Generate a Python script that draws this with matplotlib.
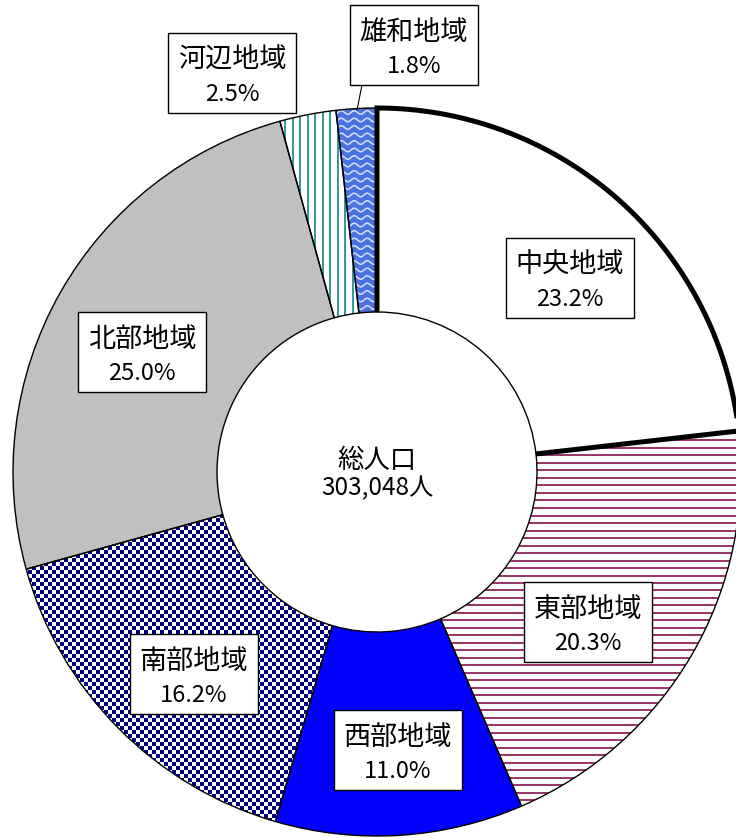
import numpy as np
import matplotlib
matplotlib.use("Agg")
from matplotlib import pyplot as plt
from matplotlib.colors import ListedColormap
from matplotlib.patches import Rectangle

plt.rcParams['font.family'] = ['Noto Sans CJK JP', 'DejaVu Sans']

# data
regions = ['中央地域', '東部地域', '西部地域', '南部地域', '北部地域', '河辺地域', '雄和地域']
shares = [23.2, 20.3, 11.0, 16.2, 25.0, 2.5, 1.8]
total_pop = 303048

# layout (pixel coords, y from top)
W, H = 736, 838
cx, cy = 377, H - 472
r_out, r_in = 364, 160
label_pos = [(570, 278), (588, 622), (398, 750), (194, 674), (142, 352), (232, 73), (414, 45)]
face = ['white', 'white', '#0000FF', 'white', '#C0C0C0', 'white', '#4A72E0']

fig = plt.figure(figsize=(W / 100, H / 100), dpi=100)
ax = fig.add_axes([0, 0, 1, 1])

wedges, _ = ax.pie(shares, colors=face, startangle=90, counterclock=False,
                   radius=r_out, center=(cx, cy),
                   wedgeprops=dict(width=r_out - r_in, edgecolor='none', linewidth=0))

# 東部: horizontal maroon stripes
for y0 in np.arange(0, H, 7.5):
    ln, = ax.plot([0, W], [y0, y0], color='#993366', lw=1.4, zorder=2)
    ln.set_clip_path(wedges[1])

# 河辺: vertical teal stripes
for x0 in np.arange(0, W, 7.5):
    ln, = ax.plot([x0, x0], [0, H], color='#2E9A96', lw=1.4, zorder=2)
    ln.set_clip_path(wedges[5])

# 雄和: wavy light lines
xs = np.linspace(320, 400, 200)
for y0 in np.arange(H - 330, H - 90, 7.5):
    ln, = ax.plot(xs, y0 + 1.8 * np.sin(2 * np.pi * xs / 13), color='#D6E2FF', lw=1.1, zorder=2)
    ln.set_clip_path(wedges[6])

# 南部: navy checkerboard
cell = 4
nx, ny = W // cell + 1, H // cell + 1
board = np.add.outer(np.arange(ny), np.arange(nx)) % 2
im = ax.imshow(board, cmap=ListedColormap(['white', '#000080']), origin='lower',
               extent=(0, nx * cell, 0, ny * cell), interpolation='nearest', zorder=2)
im.set_clip_path(wedges[3])

# wedge outlines
ax.pie(shares, startangle=90, counterclock=False, radius=r_out, center=(cx, cy),
       wedgeprops=dict(width=r_out - r_in, facecolor='none', edgecolor='black',
                       linewidth=1.0, zorder=3))

# thick border around the first slice
a0 = 90.0
a1 = 90.0 - shares[0] / sum(shares) * 360.0
th = np.radians(np.linspace(a0, a1, 200))
bx = np.concatenate([[cx + r_in * np.cos(th[0])], cx + r_out * np.cos(th), [cx + r_in * np.cos(th[-1])]])
by = np.concatenate([[cy + r_in * np.sin(th[0])], cy + r_out * np.sin(th), [cy + r_in * np.sin(th[-1])]])
ax.plot(bx, by, color='black', lw=3.6, solid_joinstyle='miter', solid_capstyle='butt', zorder=4)

# labels
bw, bh = 128, 80
for name, pct, (lx, ly) in zip(regions, shares, label_pos):
    ly = H - ly
    ax.add_patch(Rectangle((lx - bw / 2, ly - bh / 2), bw, bh, facecolor='white',
                           edgecolor='black', lw=1.0, zorder=5))
    ax.text(lx, ly + 13, name, ha='center', va='center', fontsize=19.5, zorder=6)
    ax.text(lx, ly - 21, f"{pct:.1f}%", ha='center', va='center', fontsize=17, zorder=6)

# leader line for small slice
ax.plot([362, 357], [H - 85, H - 110], color='black', lw=0.8, zorder=4)

# center text
ax.text(cx, H - 460, '総人口', ha='center', va='center', fontsize=19, zorder=6)
ax.text(cx, H - 488, f"{total_pop:,}人", ha='center', va='center', fontsize=17.5, zorder=6)

ax.set_xlim(0, W)
ax.set_ylim(0, H)
ax.set_aspect('equal')
ax.axis('off')
fig.savefig('out.png', dpi=100)
